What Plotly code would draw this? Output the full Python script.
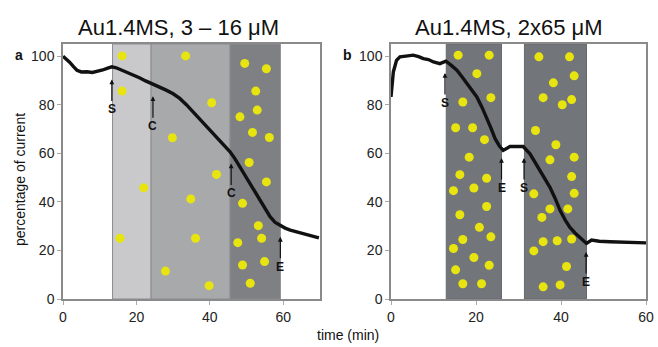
import plotly.graph_objects as go

# ---------------- data ----------------
# panel a: current trace (time in min, percentage of current)
a_time = [0.0, 0.8, 1.8, 2.8, 3.8, 5.0, 6.5, 8.0, 9.5, 10.8, 12.0, 13.3, 14.5, 16.0, 17.2,
          19.0, 20.8, 22.5, 24.5, 26.3, 28.1, 30.0, 31.8, 33.6, 35.4, 37.2, 39.1, 41.0,
          42.7, 44.2, 45.5, 46.9, 48.2, 49.6, 51.0, 52.4, 53.7, 55.0, 56.4, 57.8, 59.2,
          60.5, 61.9, 63.7, 65.6, 67.6, 69.7]
a_pct = [100.0, 99.0, 97.5, 95.8, 94.2, 93.5, 93.6, 93.3, 93.8, 94.3, 95.0, 95.6, 95.2, 94.3,
         93.6, 92.4, 91.1, 89.8, 88.5, 87.3, 86.0, 84.5, 82.6, 80.0, 77.1, 74.0, 70.9, 68.0,
         65.4, 63.0, 60.6, 57.6, 54.4, 51.0, 47.6, 44.1, 40.7, 37.2, 33.9, 31.5, 30.2,
         29.2, 28.4, 27.6, 27.0, 26.1, 25.2]

# panel b: current trace
b_time = [0.0, 0.2, 0.55, 1.3, 2.1, 3.5, 5.2, 6.5, 7.6, 8.8, 10.0, 11.5, 12.9, 14.2, 15.5,
          16.7, 17.8, 19.0, 20.2, 21.4, 22.5, 23.5, 24.5, 25.5, 26.4, 27.2, 28.0, 29.5,
          31.1, 32.7, 33.9, 35.1, 36.3, 37.4, 38.6, 39.8, 41.0, 42.1, 43.3, 44.5, 46.0,
          47.2, 49.0, 51.5, 54.0, 56.2, 58.0, 60.0]
b_pct = [83.2, 88.7, 93.5, 98.3, 99.7, 100.0, 100.4, 99.8, 99.0, 98.6, 97.6, 96.9, 97.9,
         96.2, 94.2, 91.5, 88.7, 86.0, 83.2, 79.0, 74.9, 70.5, 66.0, 63.0, 61.2, 62.0, 62.8,
         62.8, 62.8, 59.8, 56.3, 52.9, 49.5, 46.0, 41.5, 36.4, 32.5, 29.5, 27.2, 25.3, 22.9,
         24.3, 23.8, 23.6, 23.4, 23.3, 23.2, 23.1]

# shaded concentration bands (start, end in min)
a_bands_start = [13.5, 24.0, 45.5]
a_bands_end = [24.0, 45.5, 59.2]
b_bands_start = [13.0, 31.4]
b_bands_end = [26.0, 46.0]

# yellow particle dots
a_dot_x = [16.1, 16.1, 22.0, 15.5, 33.4, 40.5, 29.8, 41.8, 34.8, 36.1, 27.9, 39.8,
           49.5, 55.4, 52.5, 52.9, 48.2, 51.6, 56.2, 50.7, 55.4, 48.9, 53.2, 54.1,
           47.6, 48.9, 54.9, 51.0]
a_dot_y = [100.1, 85.6, 45.8, 25.0, 100.1, 80.8, 66.4, 51.3, 41.2, 25.0, 11.5, 5.5,
           97.0, 94.8, 85.6, 77.8, 75.0, 68.6, 66.5, 56.2, 48.2, 39.4, 30.2, 25.0,
           23.2, 14.0, 15.4, 6.5]
b_dot_x = [15.8, 23.1, 20.2, 16.9, 23.5, 15.2, 19.2, 22.0, 18.4, 16.2, 22.5, 14.7,
           19.5, 22.5, 16.2, 20.8, 16.9, 23.5, 14.7, 19.5, 15.2, 23.1, 16.9, 21.3,
           34.8, 42.0, 38.2, 43.1, 35.8, 40.3, 42.5, 34.0, 38.8, 37.4, 43.1, 42.5,
           33.6, 43.1, 37.4, 41.6, 35.5, 35.8, 39.1, 42.5, 33.6, 41.3, 35.8, 39.8]
b_dot_y = [100.4, 100.4, 92.8, 81.1, 82.9, 70.5, 70.5, 65.6, 58.4, 51.2, 49.7, 44.6,
           45.7, 38.1, 34.7, 29.5, 24.5, 25.6, 20.8, 17.1, 12.0, 13.9, 6.3, 6.3,
           99.7, 99.7, 89.0, 91.9, 82.9, 80.0, 82.1, 69.4, 63.5, 57.3, 58.4, 50.4,
           43.3, 43.5, 37.1, 37.1, 33.6, 23.6, 24.0, 24.7, 19.8, 13.4, 5.0, 5.8]

# event markers: label, time, tip value
a_evt_label = ["S", "C", "C", "E"]
a_evt_time = [13.3, 24.5, 45.8, 59.2]
a_evt_val = [90.4, 83.5, 55.8, 25.6]
b_evt_label = ["S", "E", "S", "E"]
b_evt_time = [12.7, 26.0, 31.3, 45.9]
b_evt_val = [93.1, 58.1, 58.1, 19.4]

x_ticks = [0, 20, 40, 60]
y_ticks = [0, 20, 40, 60, 80, 100]

# ---------------- figure ----------------
FONT = "Liberation Sans, Arial, sans-serif"
W, H = 658, 347
fig = go.Figure()

YELLOW = "#e8e410"
fig.add_trace(go.Scatter(x=a_dot_x, y=a_dot_y, mode="markers", xaxis="x", yaxis="y",
                         marker=dict(size=9, color=YELLOW, line=dict(width=0)), hoverinfo="skip"))
fig.add_trace(go.Scatter(x=b_dot_x, y=b_dot_y, mode="markers", xaxis="x2", yaxis="y2",
                         marker=dict(size=9, color=YELLOW, line=dict(width=0)), hoverinfo="skip"))
fig.add_trace(go.Scatter(x=a_time, y=a_pct, mode="lines", xaxis="x", yaxis="y",
                         line=dict(color="#111111", width=3.4)))
fig.add_trace(go.Scatter(x=b_time, y=b_pct, mode="lines", xaxis="x2", yaxis="y2",
                         line=dict(color="#111111", width=3.4)))

shapes = []
a_colors = ["#c9c9cb", "#a8a9ab", "#7e8084"]
for s, e, c in zip(a_bands_start, a_bands_end, a_colors):
    shapes.append(dict(type="rect", xref="x", yref="y", x0=s, x1=e, y0=0, y1=105,
                       fillcolor=c, line=dict(color="#8c8c8e", width=1), layer="below"))
for s, e in zip(b_bands_start, b_bands_end):
    shapes.append(dict(type="rect", xref="x2", yref="y2", x0=s, x1=e, y0=0, y1=105,
                       fillcolor="#72767a", line=dict(color="#66696d", width=1), layer="below"))

annotations = []
for lab, t, v in zip(a_evt_label, a_evt_time, a_evt_val):
    annotations.append(dict(x=t, y=v, xref="x", yref="y", text="<b>%s</b>" % lab,
                            showarrow=True, ax=0, ay=30, arrowhead=2, arrowsize=0.8,
                            arrowwidth=1.2, arrowcolor="#111", standoff=0,
                            font=dict(family=FONT, size=12, color="#111")))
for lab, t, v in zip(b_evt_label, b_evt_time, b_evt_val):
    annotations.append(dict(x=t, y=v, xref="x2", yref="y2", text="<b>%s</b>" % lab,
                            showarrow=True, ax=0, ay=30, arrowhead=2, arrowsize=0.8,
                            arrowwidth=1.2, arrowcolor="#111", standoff=0,
                            font=dict(family=FONT, size=12, color="#111")))

def pap(px, py):
    return px / W, 1 - py / H

for txt, px, py, size in [("Au1.4MS, 3 – 16 μM", 178, 27, 22),
                          ("Au1.4MS, 2x65 μM", 509, 27, 22),
                          ("time (min)", 348, 335, 14)]:
    x, y = pap(px, py)
    annotations.append(dict(x=x, y=y, xref="paper", yref="paper", text=txt, showarrow=False,
                            xanchor="center", yanchor="middle",
                            font=dict(family=FONT, size=size, color="#111")))
x, y = pap(20, 180)
annotations.append(dict(x=x, y=y, xref="paper", yref="paper", text="percentage of current",
                        showarrow=False, textangle=-90, xanchor="center", yanchor="middle",
                        font=dict(family=FONT, size=14, color="#111")))
for txt, px, py in [("<b>a</b>", 19, 55), ("<b>b</b>", 347, 55)]:
    x, y = pap(px, py)
    annotations.append(dict(x=x, y=y, xref="paper", yref="paper", text=txt, showarrow=False,
                            xanchor="center", yanchor="middle",
                            font=dict(family=FONT, size=14, color="#111")))

ydom = [48 / H, (H - 44) / H]
axis_common = dict(showline=True, mirror=True, linecolor="#8a8a8a", linewidth=1.5,
                   showgrid=False, zeroline=False, ticks="outside", ticklen=4,
                   tickcolor="#aaaaaa", automargin=False,
                   tickfont=dict(family=FONT, size=14, color="#222"))

fig.update_layout(
    width=W, height=H, margin=dict(l=0, r=0, t=0, b=0, autoexpand=False),
    paper_bgcolor="white", plot_bgcolor="white", showlegend=False,
    xaxis=dict(domain=[63 / W, 320 / W], range=[0, 70], tickvals=x_ticks, anchor="y",
               **axis_common),
    yaxis=dict(domain=ydom, range=[0, 105], tickvals=y_ticks, anchor="x", **axis_common),
    xaxis2=dict(domain=[391 / W, 646 / W], range=[0, 60], tickvals=x_ticks, anchor="y2",
                **axis_common),
    yaxis2=dict(domain=ydom, range=[0, 105], tickvals=y_ticks, anchor="x2", **axis_common),
    shapes=shapes, annotations=annotations,
)

fig.write_html("out.html", config={"displayModeBar": False},
               post_script="document.body.style.margin='0px';document.body.style.overflow='hidden';")
